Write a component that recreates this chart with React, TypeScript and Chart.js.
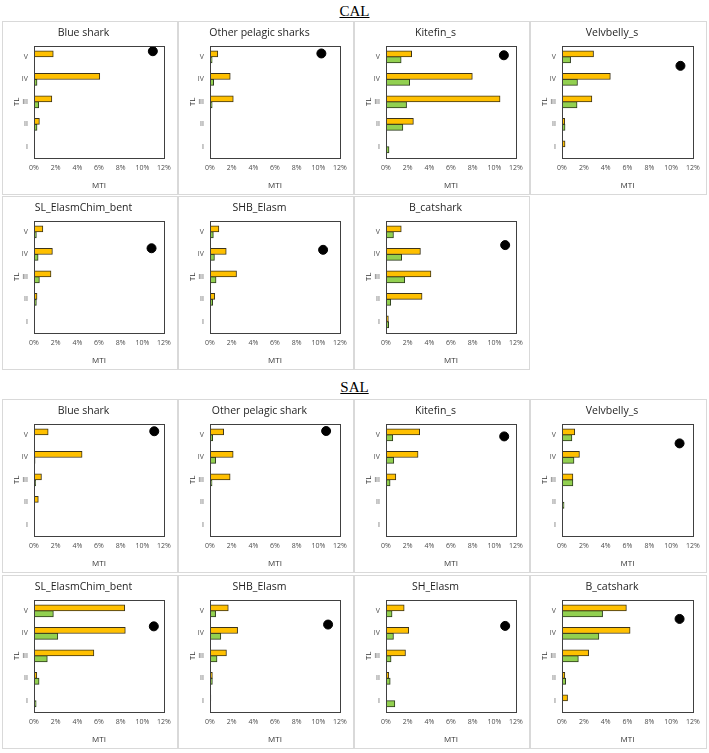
import { useEffect, useRef } from 'react';
import { Chart, registerables } from 'chart.js';

Chart.register(...registerables);

// Trophic levels, drawn top to bottom
const tlLevels = ['V', 'IV', 'III', 'II', 'I'];
const xTicks = [0, 2, 4, 6, 8, 10, 12];

// CAL panels (values in %, order V..I)
const calTitles = ['Blue shark', 'Other pelagic sharks', 'Kitefin_s', 'Velvbelly_s', 'SL_ElasmChim_bent', 'SHB_Elasm', 'B_catshark'];
const calYellow = [
  [1.78, 6.07, 1.65, 0.5, 0.03],
  [0.72, 1.87, 2.15, 0.05, 0.02],
  [2.37, 7.97, 10.53, 2.53, 0.03],
  [2.89, 4.43, 2.74, 0.25, 0.28],
  [0.82, 1.7, 1.57, 0.28, 0.02],
  [0.82, 1.5, 2.45, 0.44, 0.06],
  [1.41, 3.18, 4.15, 3.33, 0.22],
];
const calGreen = [
  [0.05, 0.28, 0.44, 0.28, 0.02],
  [0.2, 0.34, 0.2, 0.05, 0.02],
  [1.4, 2.19, 1.9, 1.56, 0.28],
  [0.79, 1.42, 1.38, 0.28, 0.0],
  [0.22, 0.38, 0.5, 0.22, 0.02],
  [0.31, 0.41, 0.56, 0.25, 0.02],
  [0.69, 1.45, 1.73, 0.44, 0.25],
];
// Marker position: x in %, y in TL rows (0 = V, 4 = I)
const calDotX = [10.97, 10.28, 10.88, 10.85, 10.85, 10.44, 11.0];
const calDotY = [-0.25, -0.15, -0.07, 0.4, 0.73, 0.8, 0.59];

// SAL panels
const salTitles = ['Blue shark', 'Other pelagic shark', 'Kitefin_s', 'Velvbelly_s', 'SL_ElasmChim_bent', 'SHB_Elasm', 'SH_Elasm', 'B_catshark'];
const salYellow = [
  [1.31, 4.44, 0.69, 0.4, 0.02],
  [1.26, 2.14, 1.86, 0.03, 0.03],
  [3.11, 2.96, 0.91, 0.03, 0.03],
  [1.17, 1.6, 1.0, 0.03, 0.03],
  [8.38, 8.43, 5.53, 0.26, 0.05],
  [1.69, 2.55, 1.52, 0.22, 0.08],
  [1.68, 2.1, 1.8, 0.26, 0.03],
  [5.9, 6.24, 2.44, 0.26, 0.51],
];
const salGreen = [
  [0.05, 0.1, 0.15, 0.03, 0.02],
  [0.25, 0.53, 0.19, 0.03, 0.03],
  [0.63, 0.72, 0.38, 0.03, 0.03],
  [0.91, 1.1, 1.0, 0.19, 0.03],
  [1.79, 2.2, 1.23, 0.47, 0.2],
  [0.52, 1.0, 0.65, 0.22, 0.03],
  [0.56, 0.69, 0.47, 0.39, 0.82],
  [3.72, 3.38, 1.5, 0.34, 0.02],
];
const salDotX = [11.1, 10.72, 10.91, 10.77, 11.06, 10.9, 11.0, 10.77];
const salDotY = [-0.16, -0.17, 0.07, 0.38, 0.69, 0.61, 0.67, 0.36];

const colLefts = [2, 178, 354, 530];
const colWidths = [176, 176, 176, 177];
const rowTops = [21, 196, 399, 575];
const panelHeight = 174;

const FONT = '"Open Sans", "Noto Sans", sans-serif';
const BAR_PX = 6.2; // bar thickness in pixels
const PAIR_SHIFT = 0.131; // half of a bar, in TL-row units: yellow sits above, green below

// Frame around the plot area
const frame = {
  id: 'plotFrame',
  afterDatasetsDraw(chart: any) {
    const { ctx, chartArea: a } = chart;
    ctx.save();
    ctx.strokeStyle = '#404040';
    ctx.lineWidth = 1;
    ctx.strokeRect(Math.round(a.left) + 0.5, Math.round(a.top) + 0.5, Math.round(a.right - a.left), Math.round(a.bottom - a.top));
    ctx.restore();
  },
};

type PanelProps = {
  title: string;
  yellow: number[];
  green: number[];
  dotX: number;
  dotY: number;
  left: number;
  top: number;
  width: number;
  height: number;
};

function Panel({ title, yellow, green, dotX, dotY, left, top, width, height }: PanelProps) {
  const ref = useRef<HTMLCanvasElement>(null);
  const cw = width - 2;
  const ch = height - 2;

  useEffect(() => {
    const barStyle = {
      borderWidth: 1,
      borderSkipped: false,
      grouped: false,
      barThickness: BAR_PX,
      xAxisID: 'x',
      yAxisID: 'y',
    };
    const chart = new Chart(ref.current as HTMLCanvasElement, {
      type: 'bar',
      data: {
        datasets: [
          {
            ...barStyle,
            data: yellow.map((v, i) => ({ x: v, y: i - PAIR_SHIFT })),
            backgroundColor: '#FFC000',
            borderColor: '#3d3419',
          } as any,
          {
            ...barStyle,
            data: green.map((v, i) => ({ x: v, y: i + PAIR_SHIFT })),
            backgroundColor: '#92D050',
            borderColor: '#2b3b1c',
          } as any,
          {
            type: 'scatter',
            data: [{ x: dotX, y: dotY }],
            backgroundColor: '#000',
            borderColor: '#000',
            pointRadius: 4.5,
            xAxisID: 'x',
            yAxisID: 'y',
          } as any,
        ],
      },
      options: {
        indexAxis: 'y',
        responsive: false,
        animation: false,
        devicePixelRatio: 1,
        layout: { padding: { left: 0, right: 13, top: 0, bottom: 0 } },
        plugins: {
          legend: { display: false },
          tooltip: { enabled: false },
          title: {
            display: true,
            text: title,
            color: '#1f1f1f',
            font: { family: FONT, size: 10.5, weight: 'normal' as any },
            padding: { top: 5, bottom: 6 },
          },
        },
        scales: {
          x: {
            type: 'linear',
            min: 0,
            max: 12,
            offset: false,
            afterBuildTicks: (s: any) => {
              s.ticks = xTicks.map((v) => ({ value: v }));
            },
            grid: { display: false, drawTicks: false },
            border: { display: false },
            ticks: {
              padding: 6,
              color: '#4d4d4d',
              font: { family: FONT, size: 7 },
              callback: (v: any) => v + '%',
              maxRotation: 0,
            },
            title: {
              display: true,
              text: 'MTI',
              color: '#333333',
              font: { family: FONT, size: 8 },
              padding: { top: 3, bottom: 3 },
            },
          },
          y: {
            type: 'linear',
            min: -0.5,
            max: 4.5,
            reverse: true,
            offset: false,
            afterBuildTicks: (s: any) => {
              s.ticks = tlLevels.map((_, i) => ({ value: i }));
            },
            grid: { display: false, drawTicks: false },
            border: { display: false },
            ticks: {
              padding: 6,
              color: '#4d4d4d',
              font: { family: FONT, size: 7 },
              callback: (v: any) => tlLevels[Math.round(v)] ?? '',
            },
            title: {
              display: true,
              text: 'TL',
              color: '#333333',
              font: { family: FONT, size: 8 },
              padding: { top: 9, bottom: 0 },
            },
            afterFit: (s: any) => {
              s.width = 31;
            },
          },
        },
      } as any,
      plugins: [frame],
    });
    return () => chart.destroy();
  }, []);

  return (
    <div
      style={{
        position: 'absolute',
        left,
        top,
        width,
        height,
        boxSizing: 'border-box',
        border: '1px solid #d9d9d9',
        background: '#fff',
      }}
    >
      <canvas ref={ref} width={cw} height={ch} style={{ display: 'block', width: cw, height: ch }} />
    </div>
  );
}

function Heading({ text, top }: { text: string; top: number }) {
  return (
    <div
      style={{
        position: 'absolute',
        left: 0,
        top,
        width: 709,
        textAlign: 'center',
        fontFamily: '"Liberation Serif", "Times New Roman", serif',
        fontSize: 15,
        lineHeight: '18px',
        color: '#000',
      }}
    >
      <span style={{ textDecoration: 'underline' }}>{text}</span>
    </div>
  );
}

export default function App() {
  const panels: PanelProps[] = [];
  calTitles.forEach((t, i) => {
    const row = i < 4 ? 0 : 1;
    const col = i < 4 ? i : i - 4;
    panels.push({
      title: t,
      yellow: calYellow[i],
      green: calGreen[i],
      dotX: calDotX[i],
      dotY: calDotY[i],
      left: colLefts[col],
      top: rowTops[row],
      width: colWidths[col],
      height: panelHeight,
    });
  });
  salTitles.forEach((t, i) => {
    const row = i < 4 ? 2 : 3;
    const col = i % 4;
    panels.push({
      title: t,
      yellow: salYellow[i],
      green: salGreen[i],
      dotX: salDotX[i],
      dotY: salDotY[i],
      left: colLefts[col],
      top: rowTops[row],
      width: colWidths[col],
      height: panelHeight,
    });
  });

  return (
    <div style={{ position: 'absolute', left: 0, top: 0, width: 709, height: 753, background: '#fff', overflow: 'hidden' }}>
      <Heading text="CAL" top={2} />
      <Heading text="SAL" top={378} />
      {panels.map((p, i) => (
        <Panel key={i} {...p} />
      ))}
    </div>
  );
}
